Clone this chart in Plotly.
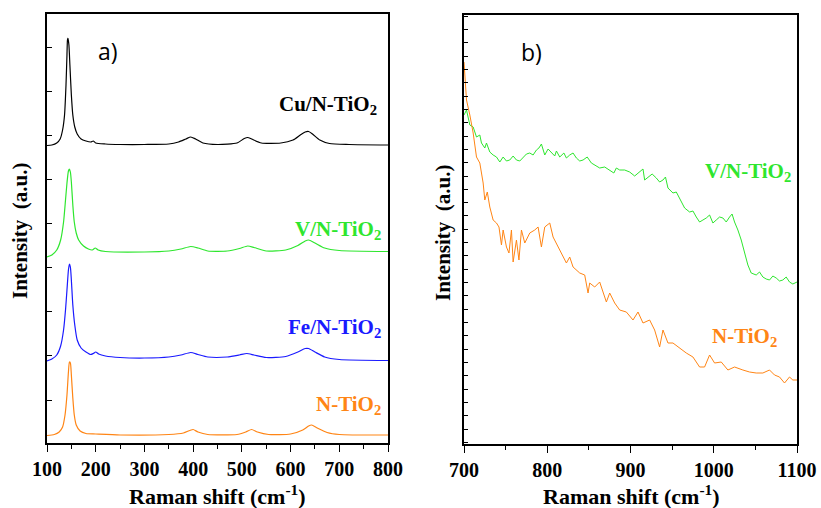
import plotly.graph_objects as go

# ---------------- Panel a) data (Raman shift cm^-1, intensity a.u.) ----------------
cu_x = [100,110,120,127,132,136,139,141,142,143,145,147,150,153,157,162,170,180,190,195,200,220,250,300,350,370,385,395,405,420,450,490,505,512,520,540,580,605,620,630,637,645,660,680,720,800]
cu_y = [297.5,298,300,304,313,328,358,388,403,405,398,378,348,328,316,309,304,302,301,302,300,299,298.5,298.5,299,301,304,306,304,300,298.5,300,304.5,305.5,304,300,300,303,308,311,311.5,309,303,299.5,298.5,298]

v_x = [100,110,120,128,134,138,141,144,146,148,150,153,156,160,165,175,185,193,199,205,220,300,350,375,395,410,430,470,495,512,525,550,590,615,630,637,650,670,700,800]
v_y = [186,188,193,203,221,243,260,272,274,271,261,238,221,210,203,197,194,193,195,193,191.5,191,192,194,196.5,195,192,192,194.5,197,195.5,192,193,197.5,202,203,200,195,192.5,191.5]

fe_x = [100,110,120,128,134,138,141,144,146,148,150,153,157,162,170,180,190,195,200,206,220,250,300,350,375,395,410,430,470,495,510,525,550,590,615,630,637,650,670,700,800]
fe_y = [82,84,88,97,113,133,153,173,179,176,163,138,118,103,95,91,88.5,89.5,91,89,87,85.5,85,86,88,90.5,88.5,86,86,88,89.5,88,85.5,86.5,91,94.5,94.5,91,86,83.5,82.5]

n_x = [100,115,125,132,137,141,144,146,148,150,153,156,160,168,180,200,250,350,380,393,400,410,430,490,508,520,532,555,600,625,637,643,655,675,700,800]
n_y = [7.5,8.5,11,16,28,48,71,81,80,68,45,28,18,12,9.5,9,8,8.5,10,12.5,13.5,11,8.5,8.5,11,13.5,11,8.5,9,13,17,18,15,10.5,8.5,8]

# ---------------- Panel b) data ----------------
vb_x = [700,703,707,711,715,719,721,725,727,731,735,739,743,747,751,755,759,763,767,771,775,779,783,787,790,793,797,801,805,809,811,815,820,823,827,831,835,839,843,848,853,857,863,869,875,880,883,887,893,899,905,911,915,917,921,926,931,935,939,942,945,951,955,959,962,965,971,975,979,983,987,991,995,999,1003,1007,1011,1015,1019,1022,1025,1029,1033,1037,1041,1045,1051,1055,1059,1063,1067,1071,1075,1079,1083,1087,1091,1095,1100]
vb_y = [329,334,319,317,307,309,301,296,301,292,289,287,282,287,283,284,288,284,283,287,290,291,289,294,296,300,289,295,292,288,293,287,291,286,289,291,286,283,284,287,281,279,276,277,274,271,276,274,274,272,268,272,275,264,267,270,266,262,264,267,256,251,252,246,241,236,232,233,227,222,224,226,229,221,224,227,226,222,227,230,222,214,204,191,179,171,169,172,167,165,164,168,166,163,164,167,162,160,162]

nb_x = [700,701,703,707,711,715,719,721,723,725,728,731,735,739,742,745,747,751,754,757,759,763,766,769,773,779,785,789,793,797,803,807,813,819,823,827,831,839,845,849,851,857,863,867,871,875,881,887,895,903,909,915,923,929,935,939,945,951,959,967,975,983,989,995,1001,1009,1017,1025,1035,1043,1051,1059,1067,1073,1079,1085,1091,1095,1100]
nb_y = [382,367,344,329,311,287,281,271,261,244,252,237,224,221,217,199,214,197,191,214,182,204,184,214,201,211,214,217,197,217,221,207,197,187,181,187,177,171,169,151,161,157,162,152,142,151,141,134,132,124,132,121,124,114,97,114,101,101,96,91,87,77,77,89,81,82,74,77,74,72,71,71,74,69,67,61,67,64,64]

# labels
a_labels = ["Cu/N-TiO<sub>2</sub>", "V/N-TiO<sub>2</sub>", "Fe/N-TiO<sub>2</sub>", "N-TiO<sub>2</sub>"]
b_labels = ["V/N-TiO<sub>2</sub>", "N-TiO<sub>2</sub>"]
xa_ticks = [100, 200, 300, 400, 500, 600, 700, 800]
xb_ticks = [700, 800, 900, 1000, 1100]

BLACK = "#000000"
GREEN = "#2ee62e"
BLUE = "#1a1aff"
ORANGE = "#ff8515"

W, H = 821, 508
L, R, T, B = 47, 24, 14, 64
PW, PH = W - L - R, H - T - B
def px(x):
    return (x - L) / PW
def py(y):
    return (H - B - y) / PH

fig = go.Figure()
lw = 1.2
sm = dict(shape="spline", smoothing=0.6)
fig.add_trace(go.Scatter(x=cu_x, y=cu_y, mode="lines", line=dict(color=BLACK, width=lw, **sm), xaxis="x", yaxis="y"))
fig.add_trace(go.Scatter(x=v_x, y=v_y, mode="lines", line=dict(color=GREEN, width=lw, **sm), xaxis="x", yaxis="y"))
fig.add_trace(go.Scatter(x=fe_x, y=fe_y, mode="lines", line=dict(color=BLUE, width=lw, **sm), xaxis="x", yaxis="y"))
fig.add_trace(go.Scatter(x=n_x, y=n_y, mode="lines", line=dict(color=ORANGE, width=lw, **sm), xaxis="x", yaxis="y"))
fig.add_trace(go.Scatter(x=vb_x, y=vb_y, mode="lines", line=dict(color=GREEN, width=1.0), xaxis="x2", yaxis="y2"))
fig.add_trace(go.Scatter(x=nb_x, y=nb_y, mode="lines", line=dict(color=ORANGE, width=1.0), xaxis="x2", yaxis="y2"))

serif = "Times New Roman, Liberation Serif, serif"
tickfont = dict(family=serif, size=20, color="black", weight="bold")
common_axis = dict(showgrid=False, zeroline=False, showline=True, linecolor="black", linewidth=1.6, mirror=True, automargin=False)

fig.update_layout(
    width=W, height=H,
    margin=dict(l=L, r=R, t=T, b=B, autoexpand=False),
    paper_bgcolor="white", plot_bgcolor="white",
    font=dict(family=serif, color="black"),
    showlegend=False,
    xaxis=dict(domain=[px(47), px(388)], range=[100, 800], tickmode="array", tickvals=xa_ticks,
               ticktext=[str(v) for v in xa_ticks], ticks="outside", ticklen=7, tickwidth=1.3, tickcolor="black",
               minor=dict(ticks="outside", ticklen=4, dtick=50, tick0=0, tickcolor="black", tickwidth=1.2),
               tickfont=tickfont, anchor="y", **common_axis),
    yaxis=dict(domain=[py(443), py(14)], range=[0, 429], ticks="inside", ticklen=5, tickwidth=1.2, tickcolor="black",
               tick0=43, dtick=44.1, showticklabels=False, anchor="x", **common_axis),
    xaxis2=dict(domain=[px(464), px(797)], range=[700, 1100], tickmode="array", tickvals=xb_ticks,
                ticktext=[str(v) for v in xb_ticks], ticks="outside", ticklen=7, tickwidth=1.3, tickcolor="black",
                minor=dict(ticks="outside", ticklen=4, dtick=50, tick0=0, tickcolor="black", tickwidth=1.2),
                tickfont=tickfont, anchor="y2", **common_axis),
    yaxis2=dict(domain=[py(444), py(15)], range=[0, 429], ticks="inside", ticklen=4, tickwidth=1.1, tickcolor="black",
                tick0=1.4, dtick=13.33, showticklabels=False, anchor="x2", **common_axis),
)

lab_font = 21
ann = []
def add(text, x, y, font, xanchor="center", angle=0):
    ann.append(dict(text=text, x=px(x), y=py(y), xref="paper", yref="paper", xanchor=xanchor, yanchor="middle",
                    showarrow=False, textangle=angle, font=font))

a_pos = [(379, 105, BLACK), (383, 230, GREEN), (383, 328, BLUE), (383, 405, ORANGE)]
for t, (x, y, c) in zip(a_labels, a_pos):
    add(t, x, y, dict(family=serif, size=lab_font, color=c, weight="bold"), xanchor="right")
b_pos = [(793, 172, GREEN), (779, 337, ORANGE)]
for t, (x, y, c) in zip(b_labels, b_pos):
    add(t, x, y, dict(family=serif, size=lab_font, color=c, weight="bold"), xanchor="right")
add("a)", 108, 51, dict(family="Open Sans", size=23, color="black"))
add("b)", 531, 52, dict(family="Open Sans", size=23, color="black"))
for x, y in [(20, 231), (443, 233)]:
    add("Intensity  (a.u.)", x, y, dict(family=serif, size=21, color="black", weight="bold"), angle=-90)
for x in [217, 631]:
    add("Raman shift (cm<sup>-1</sup>)", x, 495, dict(family=serif, size=22, color="black", weight="bold"))
fig.update_layout(annotations=ann)

fig.write_html("out.html")
